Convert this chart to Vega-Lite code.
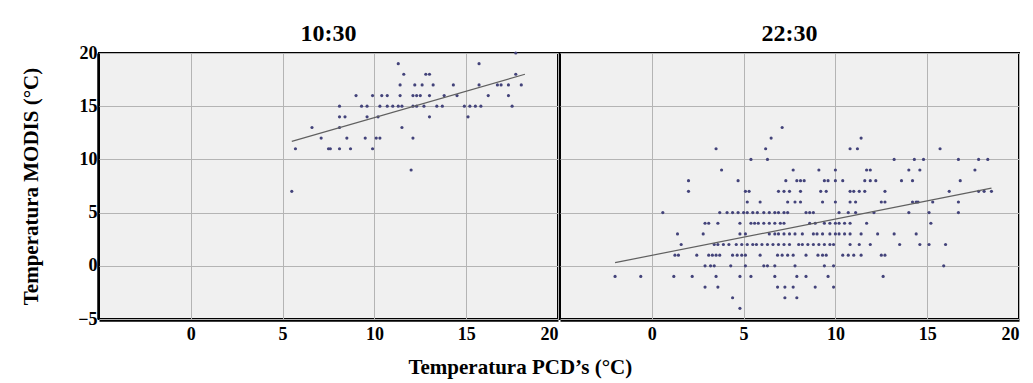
{
  "$schema": "https://vega.github.io/schema/vega-lite/v6.json",
  "background": "white",
  "padding": {"left": 20, "top": 22, "right": 10, "bottom": 5},
  "spacing": 0,
  "title": {"text": "Temperatura PCD’s (°C)", "orient": "bottom", "anchor": "middle", "font": "Liberation Serif", "fontSize": 21, "fontWeight": "bold", "color": "black", "offset": 14},
  "datasets": {
    "pts": [
      {"h":"10:30","x":11.3,"y":19},{"h":"10:30","x":15.7,"y":19},{"h":"10:30","x":17.7,"y":20},
      {"h":"10:30","x":11.6,"y":18},{"h":"10:30","x":12.8,"y":18},{"h":"10:30","x":13.0,"y":18},{"h":"10:30","x":17.7,"y":18},
      {"h":"10:30","x":11.4,"y":17},{"h":"10:30","x":12.2,"y":17},{"h":"10:30","x":12.6,"y":17},{"h":"10:30","x":13.2,"y":17},{"h":"10:30","x":14.3,"y":17},{"h":"10:30","x":15.7,"y":17},{"h":"10:30","x":16.7,"y":17},{"h":"10:30","x":16.9,"y":17},{"h":"10:30","x":17.3,"y":17},{"h":"10:30","x":18.0,"y":17},
      {"h":"10:30","x":9.0,"y":16},{"h":"10:30","x":9.9,"y":16},{"h":"10:30","x":10.4,"y":16},{"h":"10:30","x":10.7,"y":16},{"h":"10:30","x":11.4,"y":16},{"h":"10:30","x":12.1,"y":16},{"h":"10:30","x":12.3,"y":16},{"h":"10:30","x":12.5,"y":16},{"h":"10:30","x":13.0,"y":16},{"h":"10:30","x":13.8,"y":16},{"h":"10:30","x":14.5,"y":16},{"h":"10:30","x":16.2,"y":16},{"h":"10:30","x":17.3,"y":16},
      {"h":"10:30","x":8.1,"y":15},{"h":"10:30","x":9.3,"y":15},{"h":"10:30","x":9.6,"y":15},{"h":"10:30","x":10.3,"y":15},{"h":"10:30","x":10.7,"y":15},{"h":"10:30","x":11.0,"y":15},{"h":"10:30","x":11.3,"y":15},{"h":"10:30","x":11.5,"y":15},{"h":"10:30","x":12.1,"y":15},{"h":"10:30","x":12.3,"y":15},{"h":"10:30","x":12.7,"y":15},{"h":"10:30","x":13.4,"y":15},{"h":"10:30","x":13.7,"y":15},{"h":"10:30","x":14.9,"y":15},{"h":"10:30","x":15.2,"y":15},{"h":"10:30","x":15.5,"y":15},{"h":"10:30","x":15.8,"y":15},{"h":"10:30","x":17.5,"y":15},
      {"h":"10:30","x":8.1,"y":14},{"h":"10:30","x":8.4,"y":14},{"h":"10:30","x":9.6,"y":14},{"h":"10:30","x":10.2,"y":14},{"h":"10:30","x":13.0,"y":14},{"h":"10:30","x":15.1,"y":14},
      {"h":"10:30","x":6.6,"y":13},{"h":"10:30","x":8.1,"y":13},{"h":"10:30","x":11.5,"y":13},
      {"h":"10:30","x":7.1,"y":12},{"h":"10:30","x":8.5,"y":12},{"h":"10:30","x":9.5,"y":12},{"h":"10:30","x":10.1,"y":12},{"h":"10:30","x":10.3,"y":12},{"h":"10:30","x":12.1,"y":12},
      {"h":"10:30","x":5.7,"y":11},{"h":"10:30","x":7.5,"y":11},{"h":"10:30","x":7.6,"y":11},{"h":"10:30","x":8.1,"y":11},{"h":"10:30","x":8.7,"y":11},{"h":"10:30","x":9.9,"y":11},
      {"h":"10:30","x":12.0,"y":9},{"h":"10:30","x":5.5,"y":7},
      {"h":"22:30","x":7.1,"y":13},
      {"h":"22:30","x":6.5,"y":12},{"h":"22:30","x":11.4,"y":12},
      {"h":"22:30","x":3.5,"y":11},{"h":"22:30","x":6.2,"y":11},{"h":"22:30","x":10.8,"y":11},{"h":"22:30","x":11.2,"y":11},{"h":"22:30","x":15.7,"y":11},
      {"h":"22:30","x":5.4,"y":10},{"h":"22:30","x":6.3,"y":10},{"h":"22:30","x":13.2,"y":10},{"h":"22:30","x":14.3,"y":10},{"h":"22:30","x":14.8,"y":10},{"h":"22:30","x":16.7,"y":10},{"h":"22:30","x":17.8,"y":10},{"h":"22:30","x":18.3,"y":10},
      {"h":"22:30","x":3.8,"y":9},{"h":"22:30","x":7.7,"y":9},{"h":"22:30","x":9.1,"y":9},{"h":"22:30","x":10.0,"y":9},{"h":"22:30","x":11.7,"y":9},{"h":"22:30","x":11.9,"y":9},{"h":"22:30","x":14.0,"y":9},{"h":"22:30","x":14.6,"y":9},{"h":"22:30","x":17.6,"y":9},
      {"h":"22:30","x":2.0,"y":8},{"h":"22:30","x":4.7,"y":8},{"h":"22:30","x":7.3,"y":8},{"h":"22:30","x":7.9,"y":8},{"h":"22:30","x":8.1,"y":8},{"h":"22:30","x":8.3,"y":8},{"h":"22:30","x":9.4,"y":8},{"h":"22:30","x":9.6,"y":8},{"h":"22:30","x":10.0,"y":8},{"h":"22:30","x":10.4,"y":8},{"h":"22:30","x":11.6,"y":8},{"h":"22:30","x":11.9,"y":8},{"h":"22:30","x":12.2,"y":8},{"h":"22:30","x":13.6,"y":8},{"h":"22:30","x":14.2,"y":8},{"h":"22:30","x":16.8,"y":8},
      {"h":"22:30","x":2.0,"y":7},{"h":"22:30","x":5.1,"y":7},{"h":"22:30","x":5.3,"y":7},{"h":"22:30","x":6.9,"y":7},{"h":"22:30","x":7.2,"y":7},{"h":"22:30","x":7.5,"y":7},{"h":"22:30","x":8.1,"y":7},{"h":"22:30","x":9.2,"y":7},{"h":"22:30","x":9.5,"y":7},{"h":"22:30","x":10.8,"y":7},{"h":"22:30","x":11.0,"y":7},{"h":"22:30","x":11.3,"y":7},{"h":"22:30","x":11.6,"y":7},{"h":"22:30","x":12.7,"y":7},{"h":"22:30","x":16.2,"y":7},{"h":"22:30","x":17.8,"y":7},{"h":"22:30","x":18.1,"y":7},{"h":"22:30","x":18.5,"y":7},
      {"h":"22:30","x":5.2,"y":6},{"h":"22:30","x":5.9,"y":6},{"h":"22:30","x":7.4,"y":6},{"h":"22:30","x":7.8,"y":6},{"h":"22:30","x":8.1,"y":6},{"h":"22:30","x":9.3,"y":6},{"h":"22:30","x":10.0,"y":6},{"h":"22:30","x":10.8,"y":6},{"h":"22:30","x":11.1,"y":6},{"h":"22:30","x":12.5,"y":6},{"h":"22:30","x":12.7,"y":6},{"h":"22:30","x":14.2,"y":6},{"h":"22:30","x":14.4,"y":6},{"h":"22:30","x":14.5,"y":6},{"h":"22:30","x":15.3,"y":6},{"h":"22:30","x":16.7,"y":6},
      {"h":"22:30","x":0.6,"y":5},{"h":"22:30","x":3.7,"y":5},{"h":"22:30","x":4.1,"y":5},{"h":"22:30","x":4.4,"y":5},{"h":"22:30","x":4.7,"y":5},{"h":"22:30","x":5.0,"y":5},{"h":"22:30","x":5.2,"y":5},{"h":"22:30","x":5.5,"y":5},{"h":"22:30","x":5.75,"y":5},{"h":"22:30","x":6.1,"y":5},{"h":"22:30","x":6.4,"y":5},{"h":"22:30","x":6.7,"y":5},{"h":"22:30","x":6.9,"y":5},{"h":"22:30","x":7.2,"y":5},{"h":"22:30","x":7.4,"y":5},{"h":"22:30","x":8.4,"y":5},{"h":"22:30","x":8.6,"y":5},{"h":"22:30","x":8.8,"y":5},{"h":"22:30","x":10.2,"y":5},{"h":"22:30","x":10.7,"y":5},{"h":"22:30","x":11.1,"y":5},{"h":"22:30","x":12.1,"y":5},{"h":"22:30","x":14.0,"y":5},{"h":"22:30","x":15.1,"y":5},{"h":"22:30","x":16.7,"y":5},
      {"h":"22:30","x":2.9,"y":4},{"h":"22:30","x":3.1,"y":4},{"h":"22:30","x":3.6,"y":4},{"h":"22:30","x":4.8,"y":4},{"h":"22:30","x":5.4,"y":4},{"h":"22:30","x":5.6,"y":4},{"h":"22:30","x":5.8,"y":4},{"h":"22:30","x":6.1,"y":4},{"h":"22:30","x":6.4,"y":4},{"h":"22:30","x":6.7,"y":4},{"h":"22:30","x":7.0,"y":4},{"h":"22:30","x":7.2,"y":4},{"h":"22:30","x":8.6,"y":4},{"h":"22:30","x":8.9,"y":4},{"h":"22:30","x":9.4,"y":4},{"h":"22:30","x":9.7,"y":4},{"h":"22:30","x":10.0,"y":4},{"h":"22:30","x":10.2,"y":4},{"h":"22:30","x":10.5,"y":4},{"h":"22:30","x":10.8,"y":4},{"h":"22:30","x":11.7,"y":4},{"h":"22:30","x":15.2,"y":4},
      {"h":"22:30","x":1.4,"y":3},{"h":"22:30","x":2.8,"y":3},{"h":"22:30","x":4.8,"y":3},{"h":"22:30","x":5.1,"y":3},{"h":"22:30","x":6.4,"y":3},{"h":"22:30","x":6.7,"y":3},{"h":"22:30","x":6.9,"y":3},{"h":"22:30","x":7.2,"y":3},{"h":"22:30","x":7.5,"y":3},{"h":"22:30","x":7.8,"y":3},{"h":"22:30","x":8.2,"y":3},{"h":"22:30","x":8.8,"y":3},{"h":"22:30","x":9.0,"y":3},{"h":"22:30","x":9.3,"y":3},{"h":"22:30","x":9.7,"y":3},{"h":"22:30","x":10.0,"y":3},{"h":"22:30","x":10.2,"y":3},{"h":"22:30","x":10.5,"y":3},{"h":"22:30","x":10.8,"y":3},{"h":"22:30","x":11.4,"y":3},{"h":"22:30","x":12.3,"y":3},{"h":"22:30","x":13.2,"y":3},{"h":"22:30","x":14.4,"y":3},
      {"h":"22:30","x":1.6,"y":2},{"h":"22:30","x":3.4,"y":2},{"h":"22:30","x":3.6,"y":2},{"h":"22:30","x":3.9,"y":2},{"h":"22:30","x":4.2,"y":2},{"h":"22:30","x":4.6,"y":2},{"h":"22:30","x":4.9,"y":2},{"h":"22:30","x":5.2,"y":2},{"h":"22:30","x":5.5,"y":2},{"h":"22:30","x":5.7,"y":2},{"h":"22:30","x":6.0,"y":2},{"h":"22:30","x":6.3,"y":2},{"h":"22:30","x":6.6,"y":2},{"h":"22:30","x":6.9,"y":2},{"h":"22:30","x":7.2,"y":2},{"h":"22:30","x":7.5,"y":2},{"h":"22:30","x":8.0,"y":2},{"h":"22:30","x":8.2,"y":2},{"h":"22:30","x":8.5,"y":2},{"h":"22:30","x":8.8,"y":2},{"h":"22:30","x":9.1,"y":2},{"h":"22:30","x":9.4,"y":2},{"h":"22:30","x":9.7,"y":2},{"h":"22:30","x":9.9,"y":2},{"h":"22:30","x":10.8,"y":2},{"h":"22:30","x":11.3,"y":2},{"h":"22:30","x":11.9,"y":2},{"h":"22:30","x":13.5,"y":2},{"h":"22:30","x":14.6,"y":2},{"h":"22:30","x":15.1,"y":2},{"h":"22:30","x":16.0,"y":2},
      {"h":"22:30","x":1.26,"y":1},{"h":"22:30","x":1.45,"y":1},{"h":"22:30","x":2.45,"y":1},{"h":"22:30","x":3.1,"y":1},{"h":"22:30","x":3.3,"y":1},{"h":"22:30","x":3.5,"y":1},{"h":"22:30","x":3.7,"y":1},{"h":"22:30","x":4.4,"y":1},{"h":"22:30","x":4.65,"y":1},{"h":"22:30","x":4.9,"y":1},{"h":"22:30","x":5.1,"y":1},{"h":"22:30","x":5.9,"y":1},{"h":"22:30","x":6.85,"y":1},{"h":"22:30","x":7.1,"y":1},{"h":"22:30","x":7.4,"y":1},{"h":"22:30","x":7.7,"y":1},{"h":"22:30","x":8.4,"y":1},{"h":"22:30","x":9.05,"y":1},{"h":"22:30","x":9.3,"y":1},{"h":"22:30","x":9.5,"y":1},{"h":"22:30","x":10.4,"y":1},{"h":"22:30","x":10.7,"y":1},{"h":"22:30","x":11.0,"y":1},{"h":"22:30","x":11.4,"y":1},{"h":"22:30","x":12.5,"y":1},{"h":"22:30","x":12.7,"y":1},
      {"h":"22:30","x":2.9,"y":0},{"h":"22:30","x":3.2,"y":0},{"h":"22:30","x":3.4,"y":0},{"h":"22:30","x":4.3,"y":0},{"h":"22:30","x":5.1,"y":0},{"h":"22:30","x":6.1,"y":0},{"h":"22:30","x":6.3,"y":0},{"h":"22:30","x":6.7,"y":0},{"h":"22:30","x":7.8,"y":0},{"h":"22:30","x":9.4,"y":0},{"h":"22:30","x":9.9,"y":0},{"h":"22:30","x":15.9,"y":0},
      {"h":"22:30","x":-2.0,"y":-1},{"h":"22:30","x":-0.6,"y":-1},{"h":"22:30","x":1.2,"y":-1},{"h":"22:30","x":2.2,"y":-1},{"h":"22:30","x":3.5,"y":-1},{"h":"22:30","x":4.8,"y":-1},{"h":"22:30","x":5.4,"y":-1},{"h":"22:30","x":6.7,"y":-1},{"h":"22:30","x":7.9,"y":-1},{"h":"22:30","x":8.4,"y":-1},{"h":"22:30","x":9.6,"y":-1},{"h":"22:30","x":12.6,"y":-1},
      {"h":"22:30","x":2.9,"y":-2},{"h":"22:30","x":3.6,"y":-2},{"h":"22:30","x":6.85,"y":-2},{"h":"22:30","x":7.25,"y":-2},{"h":"22:30","x":7.7,"y":-2},{"h":"22:30","x":8.9,"y":-2},{"h":"22:30","x":9.9,"y":-2},
      {"h":"22:30","x":4.4,"y":-3},{"h":"22:30","x":7.25,"y":-3},{"h":"22:30","x":7.9,"y":-3},
      {"h":"22:30","x":4.8,"y":-4},
      {"h":"10:30","x":5.5,"y":11.7,"t":"fit"},{"h":"10:30","x":18.2,"y":18.0,"t":"fit"},
      {"h":"22:30","x":-2.0,"y":0.3,"t":"fit"},{"h":"22:30","x":18.5,"y":7.3,"t":"fit"}
    ]
  },
  "data": {"name": "pts"},
  "facet": {
    "column": {
      "field": "h", "type": "nominal",
      "header": {"title": null, "labelFont": "Liberation Serif", "labelFontSize": 24, "labelFontWeight": "bold", "labelColor": "black", "labelPadding": 4}
    }
  },
  "spec": {
    "width": 459,
    "height": 266,
    "layer": [
      {
        "transform": [{"filter": "datum.t !== 'fit'"}],
        "mark": {"type": "circle", "size": 10, "color": "#43437a", "opacity": 1},
        "encoding": {
          "x": {"field": "x", "type": "quantitative", "scale": {"domain": [-5, 20], "nice": false}, "title": null,
                "axis": {"values": [0, 5, 10, 15, 20], "labelFont": "Liberation Serif", "labelFontSize": 18, "labelFontWeight": "bold", "labelPadding": 5}},
          "y": {"field": "y", "type": "quantitative", "scale": {"domain": [-5, 20], "nice": false}, "title": "Temperatura MODIS (°C)",
                "axis": {"values": [-5, 0, 5, 10, 15, 20], "labelFont": "Liberation Serif", "labelFontSize": 18, "labelFontWeight": "bold", "labelPadding": 1, "titlePadding": 36, "titleFont": "Liberation Serif", "titleFontSize": 21, "titleFontWeight": "bold"}}
        }
      },
      {
        "transform": [{"filter": "datum.t === 'fit'"}],
        "mark": {"type": "line", "color": "#606060", "strokeWidth": 1.2},
        "encoding": {
          "x": {"field": "x", "type": "quantitative"},
          "y": {"field": "y", "type": "quantitative"}
        }
      }
    ]
  },
  "config": {
    "view": {"fill": "#f0f0f0", "stroke": "black", "strokeWidth": 2},
    "axis": {
      "domainColor": "black", "domainWidth": 2.5,
      "ticks": false,
      "gridColor": "#b4b4b4", "gridWidth": 1, "gridOpacity": 1,
      "labelColor": "black", "titleColor": "black"
    }
  }
}
